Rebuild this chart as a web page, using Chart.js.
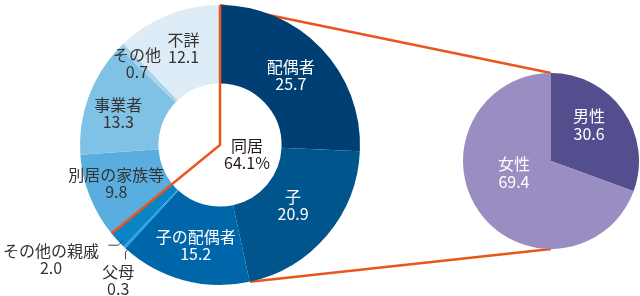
<!DOCTYPE html>
<html>
<head>
<meta charset="utf-8">
<script src="https://cdn.jsdelivr.net/npm/chart.js@4.4.0/dist/chart.umd.min.js"></script>
<style>
html, body { margin: 0; padding: 0; background: #fff; }
#wrap { position: relative; width: 640px; height: 296px; }
canvas { position: absolute; top: 0; }
</style>
</head>
<body>
<div id="wrap">
  <canvas id="lines" width="640" height="296" style="left:0"></canvas>
  <canvas id="dough" width="440" height="296" style="left:0"></canvas>
  <canvas id="pie" width="200" height="296" style="left:440px"></canvas>
</div>
<script>
// 介護者の続柄 (%)
const zokugara = ['配偶者', '子', '子の配偶者', '父母', 'その他の親戚', '別居の家族等', '事業者', 'その他', '不詳'];
const wariai = [25.7, 20.9, 15.2, 0.3, 2.0, 9.8, 13.3, 0.7, 12.1];
const dokyoKazu = 5; // 最初の5つが同居

// 同居の主な介護者の性別 (%)
const seibetsu = ['男性', '女性'];
const seibetsuWariai = [30.6, 69.4];

const iro = ['#003f73', '#00558c', '#0066aa', '#20a0ea', '#0a84c6', '#5aaddf', '#80c2e5', '#a9d2ec', '#ddecf6'];
const mojiIro = ['#fff', '#fff', '#fff', '#333', '#333', '#333', '#333', '#333', '#333'];
const seiIro = ['#534f8f', '#9a8dc2'];
const orenji = '#e9561b';
const fontti = "16px 'Noto Sans CJK JP'";

// ラベルの位置ずれ (セグメント中心から)
const zure = [[-2, 0], [-4, -5], [2, 3], [-33, 62], [-95, 46], [-10, 1], [-7, 3], [-12, -10], [1, -3]];
// 外のラベルの引き出し線 (外周の点から)
const hikidashi = {
    3: [[4, 1], [1, 5], [1, 12]],
    4: [[6, 0], [1, 5], [-9, 5]]
};

function kaku(ctx, text, x, y, col) {
    ctx.fillStyle = col;
    ctx.font = fontti;
    ctx.textAlign = 'center';
    ctx.textBaseline = 'middle';
    ctx.fillText(text, x, y);
}

const doughLabels = {
    id: 'doughLabels',
    afterDatasetsDraw(chart) {
        const ctx = chart.ctx;
        const arcs = chart.getDatasetMeta(0).data;
        const a0 = arcs[0];
        const cx = a0.x, cy = a0.y, R = a0.outerRadius, r = a0.innerRadius;
        // 同居の枠
        const aEnd = arcs[dokyoKazu - 1].endAngle;
        ctx.save();
        ctx.strokeStyle = orenji;
        ctx.lineWidth = 2.5;
        ctx.lineJoin = 'miter';
        ctx.beginPath();
        ctx.moveTo(cx + Math.cos(a0.startAngle) * R, cy + Math.sin(a0.startAngle) * R);
        ctx.lineTo(cx, cy);
        ctx.lineTo(cx + Math.cos(aEnd) * R, cy + Math.sin(aEnd) * R);
        ctx.stroke();
        ctx.restore();

        let summa = 0;
        for (let i = 0; i < dokyoKazu; i++) summa += wariai[i];
        kaku(ctx, '同居', cx + 27, cy + 1, '#231815');
        kaku(ctx, summa.toFixed(1) + '%', cx + 27, cy + 18, '#231815');

        arcs.forEach((a, i) => {
            const mid = (a.startAngle + a.endAngle) / 2;
            const rm = (r + R) / 2;
            const x = cx + Math.cos(mid) * rm + zure[i][0];
            const y = cy + Math.sin(mid) * rm + zure[i][1];
            kaku(ctx, zokugara[i], x, y - 8.5, mojiIro[i]);
            kaku(ctx, wariai[i].toFixed(1), x, y + 8.5, mojiIro[i]);
            if (hikidashi[i]) {
                const px = cx + Math.cos(mid) * R, py = cy + Math.sin(mid) * R;
                ctx.save();
                ctx.strokeStyle = '#444';
                ctx.lineWidth = 1;
                ctx.beginPath();
                hikidashi[i].forEach((p, k) => {
                    if (k === 0) ctx.moveTo(px + p[0], py + p[1]);
                    else ctx.lineTo(px + p[0], py + p[1]);
                });
                ctx.stroke();
                ctx.restore();
            }
        });
    }
};

const pieLabels = {
    id: 'pieLabels',
    afterDatasetsDraw(chart) {
        const ctx = chart.ctx;
        const arcs = chart.getDatasetMeta(0).data;
        const ofs = [[2, -11], [-1, -13]];
        arcs.forEach((a, i) => {
            const mid = (a.startAngle + a.endAngle) / 2;
            const rm = a.outerRadius * 0.5;
            const x = a.x + Math.cos(mid) * rm + ofs[i][0];
            const y = a.y + Math.sin(mid) * rm + ofs[i][1];
            kaku(ctx, seibetsu[i], x, y - 9, '#fff');
            kaku(ctx, seibetsuWariai[i].toFixed(1), x, y + 9, '#fff');
        });
    }
};

const yhine = {
    animation: false,
    responsive: false,
    plugins: { legend: { display: false }, tooltip: { enabled: false } },
    events: []
};

const dough = new Chart(document.getElementById('dough').getContext('2d'), {
    type: 'doughnut',
    data: {
        labels: zokugara,
        datasets: [{ data: wariai, backgroundColor: iro, borderWidth: 0 }]
    },
    options: Object.assign({}, yhine, {
        cutout: '44%',
        layout: { padding: { left: 80, right: 80, top: 5, bottom: 11 } }
    }),
    plugins: [doughLabels]
});

const pie = new Chart(document.getElementById('pie').getContext('2d'), {
    type: 'pie',
    data: {
        labels: seibetsu,
        datasets: [{ data: seibetsuWariai, backgroundColor: seiIro, borderWidth: 0 }]
    },
    options: Object.assign({}, yhine, {
        layout: { padding: { left: 23, right: 1, top: 73, bottom: 47 } }
    }),
    plugins: [pieLabels]
});

// つなぎの線
const d0 = dough.getDatasetMeta(0).data[0];
const p0 = pie.getDatasetMeta(0).data[0];
const lctx = document.getElementById('lines').getContext('2d');
const alaKulma = (90 - 12.4) * Math.PI / 180;
lctx.strokeStyle = orenji;
lctx.lineWidth = 2.5;
lctx.beginPath();
lctx.moveTo(d0.x, d0.y - d0.outerRadius);
lctx.lineTo(440 + p0.x, p0.y - p0.outerRadius);
lctx.moveTo(d0.x + Math.cos(alaKulma) * d0.outerRadius, d0.y + Math.sin(alaKulma) * d0.outerRadius);
lctx.lineTo(440 + p0.x, p0.y + p0.outerRadius);
lctx.stroke();
</script>
</body>
</html>
